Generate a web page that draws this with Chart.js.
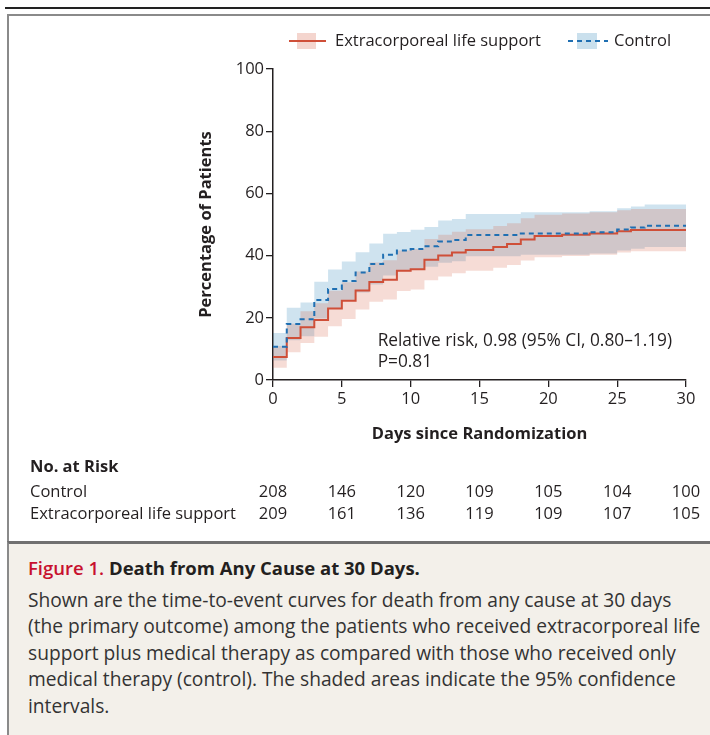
<!DOCTYPE html>
<html>
<head>
<meta charset="utf-8">
<title>Death from Any Cause at 30 Days</title>
<script src="https://cdn.jsdelivr.net/npm/chart.js@4/dist/chart.umd.min.js"></script>
<style>
  html, body { margin: 0; padding: 0; background: #fff; }
  body { width: 710px; height: 735px; position: relative; overflow: hidden; font-family: "Open Sans", sans-serif; color: #231f20; }
  .topline { position: absolute; left: 5px; right: 0; top: 7px; height: 2px; background: #222; }
  .box { position: absolute; left: 7px; top: 14px; width: 720px; height: 530px; border-left: 2px solid #8a8a8a; border-top: 2px solid #8a8a8a; box-sizing: border-box; }
  .caption { position: absolute; left: 7px; top: 541px; width: 720px; height: 200px; background: #f3f0ea; border-left: 2px solid #8a8a8a; border-top: 3px solid #707070; box-sizing: border-box; padding: 11px 0 0 19px; }
  .caption h4 { margin: 0 0 6px 0; font-size: 18.5px; font-weight: 700; line-height: 26px; }
  .caption h4 span { color: #c8102e; font-weight: 600; }
  .caption p { margin: 0; font-size: 19.2px; line-height: 26.4px; color: #333; }
  #wrap { position: absolute; left: 0; top: 0; width: 710px; height: 540px; }
</style>
</head>
<body>
<div class="topline"></div>
<div class="box"></div>
<div id="wrap"><canvas id="km" width="710" height="540"></canvas></div>
<div class="caption">
  <h4><span>Figure 1.</span> Death from Any Cause at 30 Days.</h4>
  <p>Shown are the time-to-event curves for death from any cause at 30 days<br>
  (the primary outcome) among the patients who received extracorporeal life<br>
  support plus medical therapy as compared with those who received only<br>
  medical therapy (control). The shaded areas indicate the 95% confidence<br>
  intervals.</p>
</div>
<script>
// days 0..30, value holds from day i to day i+1
const days = [0,1,2,3,4,5,6,7,8,9,10,11,12,13,14,15,16,17,18,19,20,21,22,23,24,25,26,27,28,29,30];

const controlEst  = [10.7,18.0,19.5,25.7,29.3,31.8,34.6,37.3,40.3,41.6,42.1,43.0,44.5,45.0,46.6,46.6,46.6,46.6,47.1,47.1,47.1,47.1,47.1,47.5,47.5,48.4,49.0,49.6,49.6,49.6,49.6];
const controlHigh = [15.1,23.2,24.9,31.6,35.5,38.1,41.1,43.9,47.0,47.6,48.3,49.2,51.3,51.8,53.4,53.4,53.4,53.4,53.9,53.9,53.9,53.9,53.9,54.3,54.3,55.2,55.8,56.4,56.4,56.4,56.4];
const controlLow  = [6.3,12.8,14.1,19.8,23.1,25.5,28.1,30.7,33.6,35.0,35.6,36.4,37.7,38.2,39.8,39.8,39.8,39.8,40.3,40.3,40.3,40.3,40.3,40.7,40.7,41.6,42.2,42.8,42.8,42.8,42.8];

const eclsEst  = [7.4,13.5,17.0,19.3,23.0,25.5,28.8,31.5,32.2,35.1,35.6,38.7,40.0,41.0,41.8,41.8,42.8,43.7,45.2,46.3,46.3,46.7,46.7,47.1,47.1,47.8,48.2,48.2,48.2,48.2,48.2];
const eclsHigh = [10.9,18.1,22.1,24.7,28.7,31.4,34.9,37.8,38.5,41.6,42.1,45.3,46.7,47.7,48.5,48.5,49.5,50.4,52.0,53.1,53.1,53.5,53.5,53.9,53.9,54.6,55.0,55.0,55.0,55.0,55.0];
const eclsLow  = [3.9,8.9,11.9,13.9,17.3,19.6,22.7,25.2,25.9,28.6,29.1,32.1,33.3,34.3,35.1,35.1,36.1,37.0,38.4,39.5,39.5,39.9,39.9,40.3,40.3,41.0,41.4,41.4,41.4,41.4,41.4];

const riskDays    = [0,5,10,15,20,25,30];
const riskControl = [208,146,120,109,105,104,100];
const riskEcls    = [209,161,136,119,109,107,105];

const RED = '#cf4f38', BLUE = '#1f6fb2';
const pts = arr => days.map((d, i) => ({ x: d, y: arr[i] }));
const band = (data, extra) => Object.assign({ data: pts(data), stepped: true, pointRadius: 0, borderWidth: 0 }, extra);

Chart.defaults.font.family = '"Open Sans", sans-serif';
Chart.defaults.color = '#231f20';

const overlay = {
    id: 'overlay',
    afterDraw(chart) {
        const ctx = chart.ctx, xs = chart.scales.x, ys = chart.scales.y;
        ctx.save();
        ctx.textBaseline = 'middle';

        // legend: line sample over shaded box
        ctx.fillStyle = 'rgba(212,88,60,0.25)';
        ctx.fillRect(297, 33, 19, 16);
        ctx.strokeStyle = RED; ctx.lineWidth = 2;
        ctx.beginPath(); ctx.moveTo(289, 41); ctx.lineTo(326, 41); ctx.stroke();
        ctx.fillStyle = 'rgba(15,115,175,0.22)';
        ctx.fillRect(577, 33, 20, 16);
        ctx.strokeStyle = BLUE; ctx.setLineDash([5, 4]);
        ctx.beginPath(); ctx.moveTo(568, 41); ctx.lineTo(608, 41); ctx.stroke();
        ctx.setLineDash([]);
        ctx.fillStyle = '#231f20';
        ctx.font = '16.5px "Open Sans"';
        ctx.fillText('Extracorporeal life support', 335, 41);
        ctx.fillText('Control', 614, 41);

        // relative risk note
        ctx.font = '17.3px "Open Sans"';
        ctx.fillText('Relative risk, 0.98 (95% CI, 0.80\u20131.19)', xs.getPixelForValue(7.6), ys.getPixelForValue(12.4));
        ctx.fillText('P=0.81', xs.getPixelForValue(7.6), ys.getPixelForValue(5.7));

        // number at risk
        ctx.font = 'bold 16.5px "Open Sans"';
        ctx.fillText('No. at Risk', 30, 467);
        ctx.font = '16.5px "Open Sans"';
        ctx.fillText('Control', 30, 492);
        ctx.fillText('Extracorporeal life support', 30, 514);
        ctx.textAlign = 'center';
        riskDays.forEach((d, i) => {
            const px = xs.getPixelForValue(d);
            ctx.fillText(String(riskControl[i]), px, 492);
            ctx.fillText(String(riskEcls[i]), px, 514);
        });
        ctx.restore();
    }
};

new Chart(document.getElementById('km'), {
    type: 'line',
    data: {
        datasets: [
            { label: 'Control', data: pts(controlEst), stepped: true, pointRadius: 0, borderColor: BLUE, borderWidth: 2, borderDash: [5, 4], fill: false, order: 0 },
            { label: 'Extracorporeal life support', data: pts(eclsEst), stepped: true, pointRadius: 0, borderColor: RED, borderWidth: 2, fill: false, order: 1 },
            band(eclsHigh, { label: 'ECLS upper', fill: '+1', backgroundColor: 'rgba(212,88,60,0.21)', order: 2 }),
            band(eclsLow, { label: 'ECLS lower', fill: false, order: 2 }),
            band(controlHigh, { label: 'Control upper', fill: '+1', backgroundColor: 'rgba(15,115,175,0.2)', order: 3 }),
            band(controlLow, { label: 'Control lower', fill: false, order: 3 })
        ]
    },
    options: {
        responsive: false,
        animation: false,
        devicePixelRatio: 1,
        layout: { padding: { left: 196, top: 69, right: 24, bottom: 95 } },
        plugins: { legend: { display: false }, tooltip: { enabled: false } },
        scales: {
            x: {
                type: 'linear', min: 0, max: 30,
                ticks: { stepSize: 5, font: { size: 16.5 }, color: '#231f20', padding: 2, maxRotation: 0 },
                grid: { drawOnChartArea: false, tickLength: 7, color: '#231f20', lineWidth: 1.3 },
                border: { color: '#231f20', width: 1.5 },
                title: { display: true, text: 'Days since Randomization', font: { size: 16.5, weight: 'bold' }, color: '#231f20', padding: { top: 0, bottom: 1 } },
                afterFit: s => { s.height = 65; }
            },
            y: {
                min: 0, max: 100,
                ticks: { stepSize: 20, font: { size: 16.5 }, color: '#231f20', padding: 2 },
                grid: { drawOnChartArea: false, tickLength: 7, color: '#231f20', lineWidth: 1.3 },
                border: { color: '#231f20', width: 1.5 },
                title: { display: true, text: 'Percentage of Patients', font: { size: 16.5, weight: 'bold' }, color: '#231f20', padding: 0 },
                afterFit: s => { s.width = 77; }
            }
        }
    },
    plugins: [overlay]
});
</script>
</body>
</html>
